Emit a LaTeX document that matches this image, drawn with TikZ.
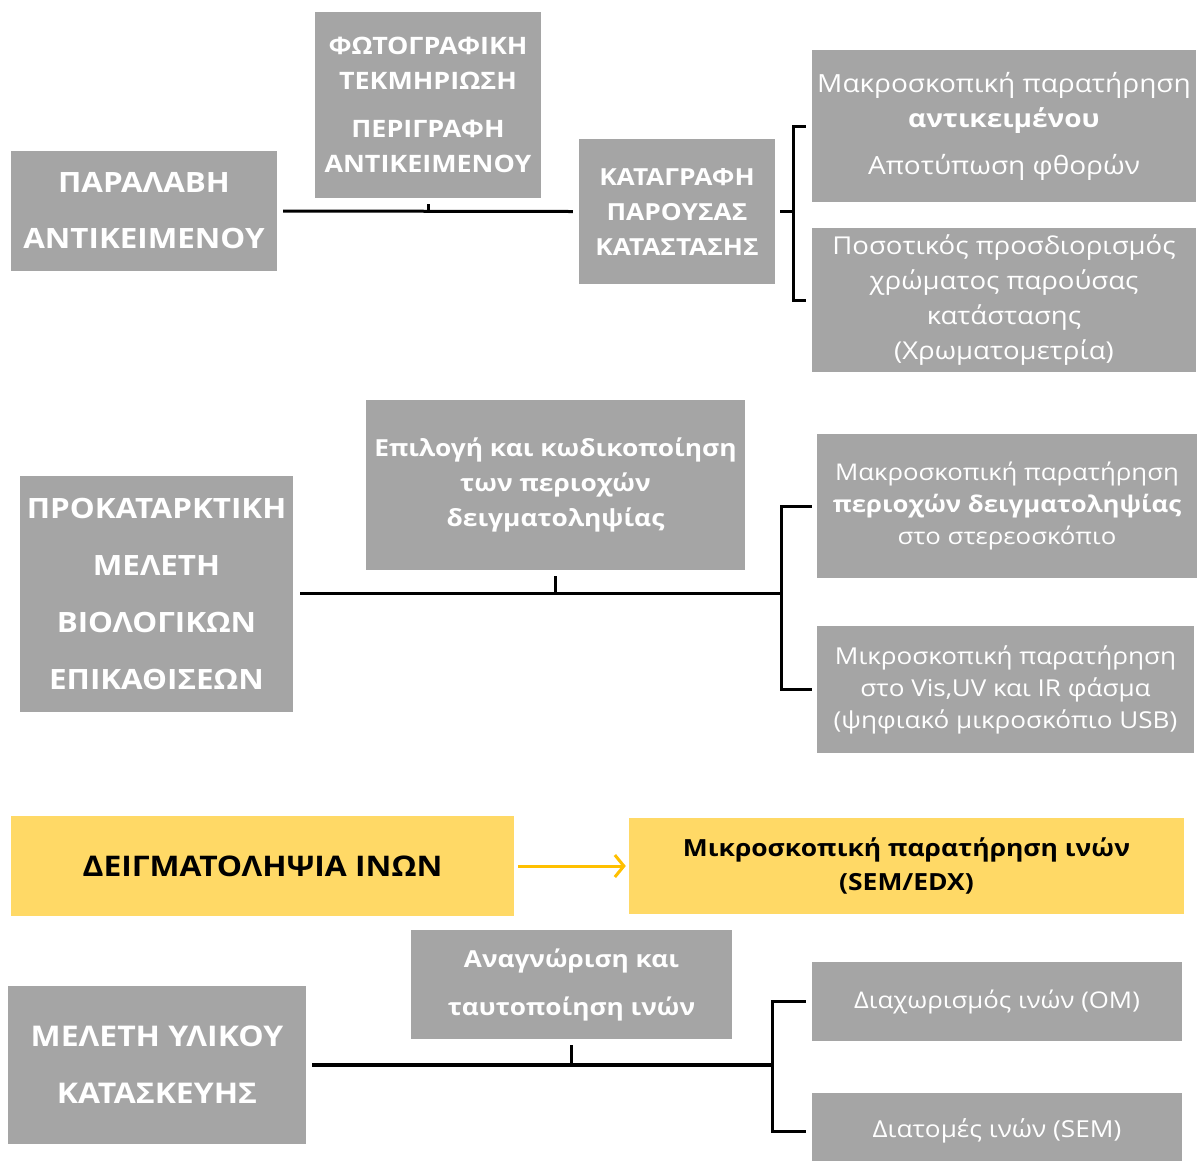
\documentclass[tikz,border=0pt]{standalone}
\usepackage{fontspec}
\setmainfont{Open Sans}[FakeStretch=1.12]
\usetikzlibrary{arrows.meta}
\definecolor{boxgray}{HTML}{A5A5A5}
\definecolor{boxyellow}{HTML}{FFD966}
\definecolor{arrowgold}{HTML}{FFC000}
\newcommand{\fs}[2]{\fontsize{#1}{#2}\selectfont}
\begin{document}
\begin{tikzpicture}[x=1pt,y=-1pt,
  box/.style={fill=boxgray, text=white, inner sep=0pt, align=center},
  ybox/.style={fill=boxyellow, text=black, inner sep=0pt, align=center},
  link/.style={line width=3pt}]
  \useasboundingbox (0,0) rectangle (1198,1160);
  \node (A1) at (144,211) [box, minimum width=266pt, minimum height=120pt, font=\bfseries\fs{28}{56}] {ΠΑΡΑΛΑΒΗ\\ΑΝΤΙΚΕΙΜΕΝΟΥ};
  \node (B1) at (428,105) [box, minimum width=226pt, minimum height=186pt, font=\bfseries\fs{24}{35}] {ΦΩΤΟΓΡΑΦΙΚΗ\\ΤΕΚΜΗΡΙΩΣΗ\\[13pt]ΠΕΡΙΓΡΑΦΗ\\ΑΝΤΙΚΕΙΜΕΝΟΥ};
  \node (C1) at (677,211.5) [box, minimum width=196pt, minimum height=145pt, font=\bfseries\fs{23.5}{35}] {ΚΑΤΑΓΡΑΦΗ\\ΠΑΡΟΥΣΑΣ\\ΚΑΤΑΣΤΑΣΗΣ};
  \node (D1) at (1004,126) [box, minimum width=384pt, minimum height=152pt, font=\fs{25}{35}] {Μακροσκοπική παρατήρηση\\\textbf{αντικειμένου}\\[12pt]Αποτύπωση φθορών};
  \node (E1) at (1004,300) [box, minimum width=384pt, minimum height=144pt, font=\fs{24.6}{35}] {Ποσοτικός προσδιορισμός\\χρώματος παρούσας\\κατάστασης\\(Χρωματομετρία)};
  \draw[link] ([xshift=6pt]A1.east) -- ([xshift=-6pt]C1.west);
  \draw[link] ([yshift=-6pt]B1.south) -- (B1.south |- A1.east);
  \coordinate (J1) at (793,211.5);
  \draw[link] ([xshift=5pt]C1.east) -- (J1);
  \draw[link] ([xshift=-6pt]D1.west) -| (J1) |- ([xshift=-6pt]E1.west);
  \node (A2) at (156.5,594) [box, minimum width=273pt, minimum height=236pt, font=\bfseries\fs{28}{57}] {ΠΡΟΚΑΤΑΡΚΤΙΚΗ\\ΜΕΛΕΤΗ\\ΒΙΟΛΟΓΙΚΩΝ\\ΕΠΙΚΑΘΙΣΕΩΝ};
  \node (B2) at (555.5,485) [box, minimum width=379pt, minimum height=170pt, font=\bfseries\fs{23.5}{35}] {Επιλογή και κωδικοποίηση\\των περιοχών\\δειγματοληψίας};
  \node (D2) at (1007,506) [box, minimum width=380pt, minimum height=144pt, font=\fs{23}{32}] {Μακροσκοπική παρατήρηση\\\textbf{περιοχών δειγματοληψίας}\\στο στερεοσκόπιο};
  \node (E2) at (1005.5,689.5) [box, minimum width=377pt, minimum height=127pt, font=\fs{23.3}{32}] {Μικροσκοπική παρατήρηση\\στο Vis,UV και IR φάσμα\\(ψηφιακό μικροσκόπιο USB)};
  \coordinate (J2) at (781,593);
  \draw[link] ([xshift=7pt]A2.east |- J2) -- (J2);
  \draw[link] ([yshift=-6pt]B2.south) -- (B2.south |- J2);
  \draw[link] ([xshift=-5pt]D2.west) -| (J2) |- ([xshift=-5pt]E2.west);
  \node (Y1) at (262.5,866) [ybox, minimum width=503pt, minimum height=100pt, font=\bfseries\fs{28.4}{34}] {ΔΕΙΓΜΑΤΟΛΗΨΙΑ ΙΝΩΝ};
  \node (Y2) at (906.5,866) [ybox, minimum width=555pt, minimum height=96pt, font=\bfseries\fs{23.6}{34}] {Μικροσκοπική παρατήρηση ινών\\(SEM/EDX)};
  \draw[arrowgold, line width=3pt, -{Straight Barb[length=9pt,width=22pt]}] ([xshift=4pt]Y1.east) -- ([xshift=-3pt]Y2.west);
  \node (A3) at (157,1065) [box, minimum width=298pt, minimum height=158pt, font=\bfseries\fs{28.5}{57}] {ΜΕΛΕΤΗ ΥΛΙΚΟΥ\\ΚΑΤΑΣΚΕΥΗΣ};
  \node (B3) at (571.5,984.5) [box, minimum width=321pt, minimum height=109pt, font=\bfseries\fs{23.4}{48}] {Αναγνώριση και\\ταυτοποίηση ινών};
  \node (D3) at (997,1001.5) [box, minimum width=370pt, minimum height=79pt, font=\fs{23}{32}] {Διαχωρισμός ινών (OM)};
  \node (E3) at (997,1131) [box, minimum width=370pt, minimum height=76pt, font=\fs{23.4}{32}] {Διατομές ινών (SEM)};
  \coordinate (J3) at (772,1065);
  \draw[line width=4pt] ([xshift=6pt]A3.east) -- (J3);
  \draw[link] ([yshift=-6pt]B3.south) -- (B3.south |- J3);
  \draw[link] ([xshift=-6pt]D3.west) -| (J3) |- ([xshift=-6pt]E3.west);
\end{tikzpicture}
\end{document}
